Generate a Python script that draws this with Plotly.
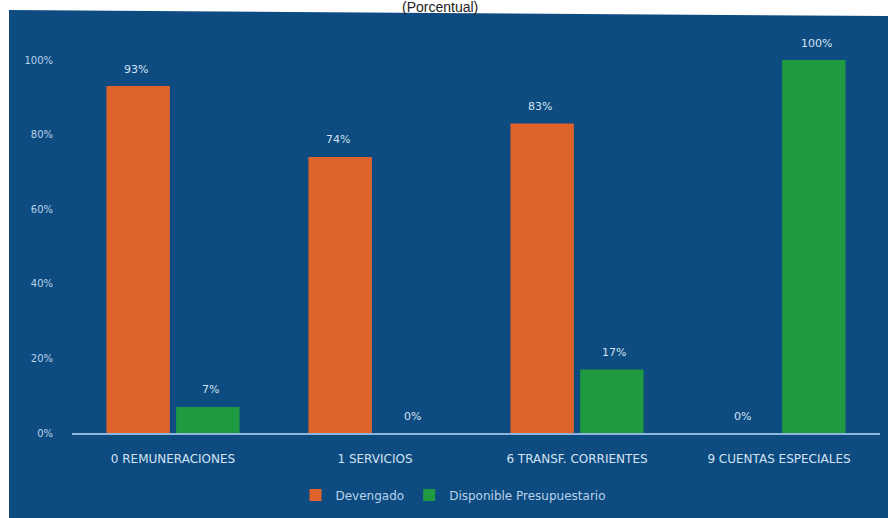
import plotly.graph_objects as go

# Budget execution by spending group, in percent
categorias = ["0 REMUNERACIONES", "1 SERVICIOS", "6 TRANSF. CORRIENTES", "9 CUENTAS ESPECIALES"]
devengado = [93, 74, 83, 0]
disponible = [7, 0, 17, 100]
y_ticks = [0, 20, 40, 60, 80, 100]

W, H = 888, 518
ML, MR, MT, MB = 72, 8, 60, 85
PW, PH = W - ML - MR, H - MT - MB

BG = "#0d4b80"
ORANGE = "#df642b"
GREEN = "#1f9a40"
TXT = "#b9d2ea"
LBL = "#d3e3f3"


def xp(px):
    return (px - ML) / PW


def yp(py):
    return (H - MB - py) / PH


fig = go.Figure()
fig.add_trace(go.Bar(name="Devengado", x=categorias, y=devengado,
                     marker=dict(color=ORANGE, line=dict(width=0))))
fig.add_trace(go.Bar(name="Disponible Presupuestario", x=categorias, y=disponible,
                     marker=dict(color=GREEN, line=dict(width=0))))

# value labels above each bar
for serie_idx, serie in enumerate([devengado, disponible]):
    for cat, val in zip(categorias, serie):
        fig.add_annotation(x=cat, y=val, text=f"{val}%", showarrow=False,
                           xshift=-37 if serie_idx == 0 else 37, yshift=17,
                           font=dict(size=11, color=LBL, family="DejaVu Sans"))

# blue panel behind the chart
path = (f"M {xp(9)},{yp(10)} L {xp(888)},{yp(16)} L {xp(888)},{yp(518)} "
        f"L {xp(9)},{yp(518)} Z")
fig.add_shape(type="path", path=path, xref="paper", yref="paper",
              fillcolor=BG, line=dict(width=0), layer="below")

fig.add_annotation(text="(Porcentual)", x=xp(440), y=yp(7), xref="paper", yref="paper",
                   showarrow=False, yanchor="middle",
                   font=dict(size=14, color="#222222", family="Liberation Sans"))

fig.update_layout(
    width=W, height=H,
    margin=dict(l=ML, r=MR, t=MT, b=MB),
    paper_bgcolor="white",
    plot_bgcolor="rgba(0,0,0,0)",
    barmode="group",
    bargap=0.31,
    bargroupgap=0.09,
    showlegend=True,
    legend=dict(orientation="h", x=xp(453), xanchor="center", y=yp(495), yanchor="middle",
                font=dict(size=12, color=TXT, family="DejaVu Sans"),
                bgcolor="rgba(0,0,0,0)", itemwidth=30),
    font=dict(family="DejaVu Sans", color=TXT),
)
fig.update_xaxes(showline=True, linecolor="#8fb6dc", linewidth=1.5, showgrid=False,
                 ticks="", tickfont=dict(size=12, color=LBL), ticklabelstandoff=14)
fig.update_yaxes(range=[0, 100], tickvals=y_ticks, ticktext=[f"{v}%" for v in y_ticks],
                 showgrid=False, zeroline=False, showline=False,
                 tickfont=dict(size=10, color=TXT), ticklabelstandoff=18)

fig.write_html("out.html")
